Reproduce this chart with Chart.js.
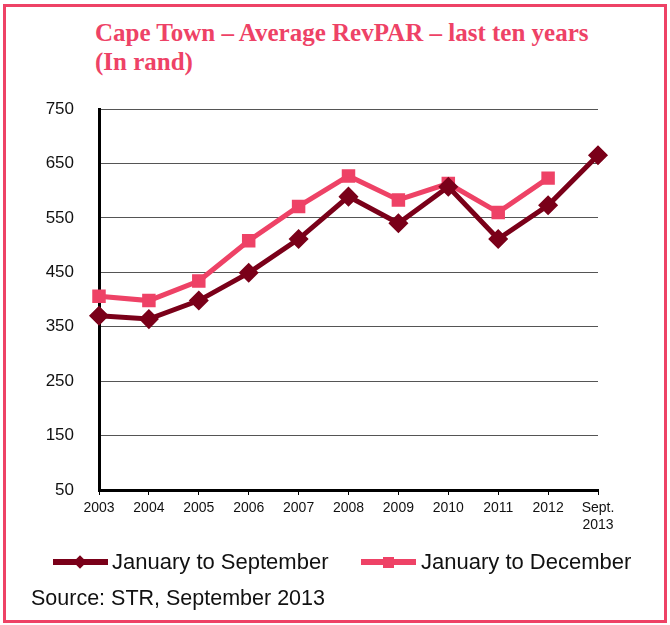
<!DOCTYPE html>
<html>
<head>
<meta charset="utf-8">
<script src="https://cdn.jsdelivr.net/npm/chart.js@4.4.0/dist/chart.umd.min.js"></script>
<style>
  html, body { margin: 0; padding: 0; background: #fff; }
  body { width: 670px; height: 625px; position: relative; overflow: hidden; font-family: "Liberation Sans", Arial, sans-serif; }
  #frame { position: absolute; left: 3px; top: 4px; width: 664px; height: 619px; box-sizing: border-box; border: 3px solid #ee4266; }
  #title { position: absolute; left: 95px; top: 18px; color: #ee4266; font-family: "Liberation Serif", serif; font-weight: bold; font-size: 25px; line-height: 29px; }
  #chartBox { position: absolute; left: 0; top: 0; width: 670px; height: 625px; }
  .legend { position: absolute; top: 549px; height: 26px; font-size: 22px; line-height: 26px; color: #111; display: flex; align-items: center; }
  .swatch { position: relative; width: 55px; height: 6px; }
  .swatch i { position: absolute; left: 21px; top: -3px; width: 12px; height: 12px; }
  #source { position: absolute; left: 31px; top: 586px; font-size: 21.5px; color: #111; }
</style>
</head>
<body>
<div id="frame"></div>
<div id="title">Cape Town – Average RevPAR – last ten years<br>(In rand)</div>
<div id="chartBox"><canvas id="chart"></canvas></div>
<div class="legend" style="left:53px"><span class="swatch" style="background:#7a0019;margin-right:4px"><i style="background:#7a0019;transform:rotate(45deg) scale(0.8)"></i></span>January to September</div>
<div class="legend" style="left:361px"><span class="swatch" style="background:#ee4266;margin-right:5px"><i style="background:#ee4266;left:22px;width:11px;height:11px;top:-2.5px"></i></span>January to December</div>
<div id="source">Source: STR, September 2013</div>
<script>
const years = ["2003", "2004", "2005", "2006", "2007", "2008", "2009", "2010", "2011", "2012", ["Sept.", "2013"]];
const janToSep = [370, 364, 398, 449, 511, 589, 540, 607, 511, 573, 665];
const janToDec = [406, 398, 434, 508, 571, 627, 583, 613, 560, 623, null];
const yTicks = [50, 150, 250, 350, 450, 550, 650, 750];

const dark = "#7a0019";
const pink = "#ee4266";

new Chart(document.getElementById("chart"), {
  type: "line",
  data: {
    labels: years,
    datasets: [
      {
        label: "January to September",
        data: janToSep,
        borderColor: dark,
        backgroundColor: dark,
        borderWidth: 5,
        pointStyle: "rectRot",
        pointRadius: 6.5,
        pointHoverRadius: 6.5,
        tension: 0,
      },
      {
        label: "January to December",
        data: janToDec,
        borderColor: pink,
        backgroundColor: pink,
        borderWidth: 5,
        pointStyle: "rect",
        pointRadius: 6,
        pointHoverRadius: 6,
        tension: 0,
      },
    ],
  },
  options: {
    responsive: true,
    maintainAspectRatio: false,
    animation: false,
    layout: { padding: { left: 0, right: 72, top: 109, bottom: 95 } },
    plugins: { legend: { display: false }, title: { display: false }, tooltip: { enabled: false } },
    scales: {
      x: {
        offset: false,
        grid: { drawOnChartArea: false, drawTicks: true, tickLength: 5, color: "#000" },
        border: { color: "#000", width: 3 },
        ticks: { color: "#111", font: { family: "Liberation Sans", size: 14 }, padding: 5, maxRotation: 0, autoSkip: false },
        afterFit: (s) => { s.height = 40; },
      },
      y: {
        min: 50,
        max: 750,
        afterBuildTicks: (s) => { s.ticks = yTicks.map((v) => ({ value: v })); },
        grid: { color: "#555", lineWidth: 1, drawTicks: false },
        border: { color: "#000", width: 3 },
        ticks: { color: "#111", font: { family: "Liberation Sans", size: 17 }, padding: 25 },
        afterFit: (s) => { s.width = 99; },
      },
    },
  },
});
</script>
</body>
</html>
